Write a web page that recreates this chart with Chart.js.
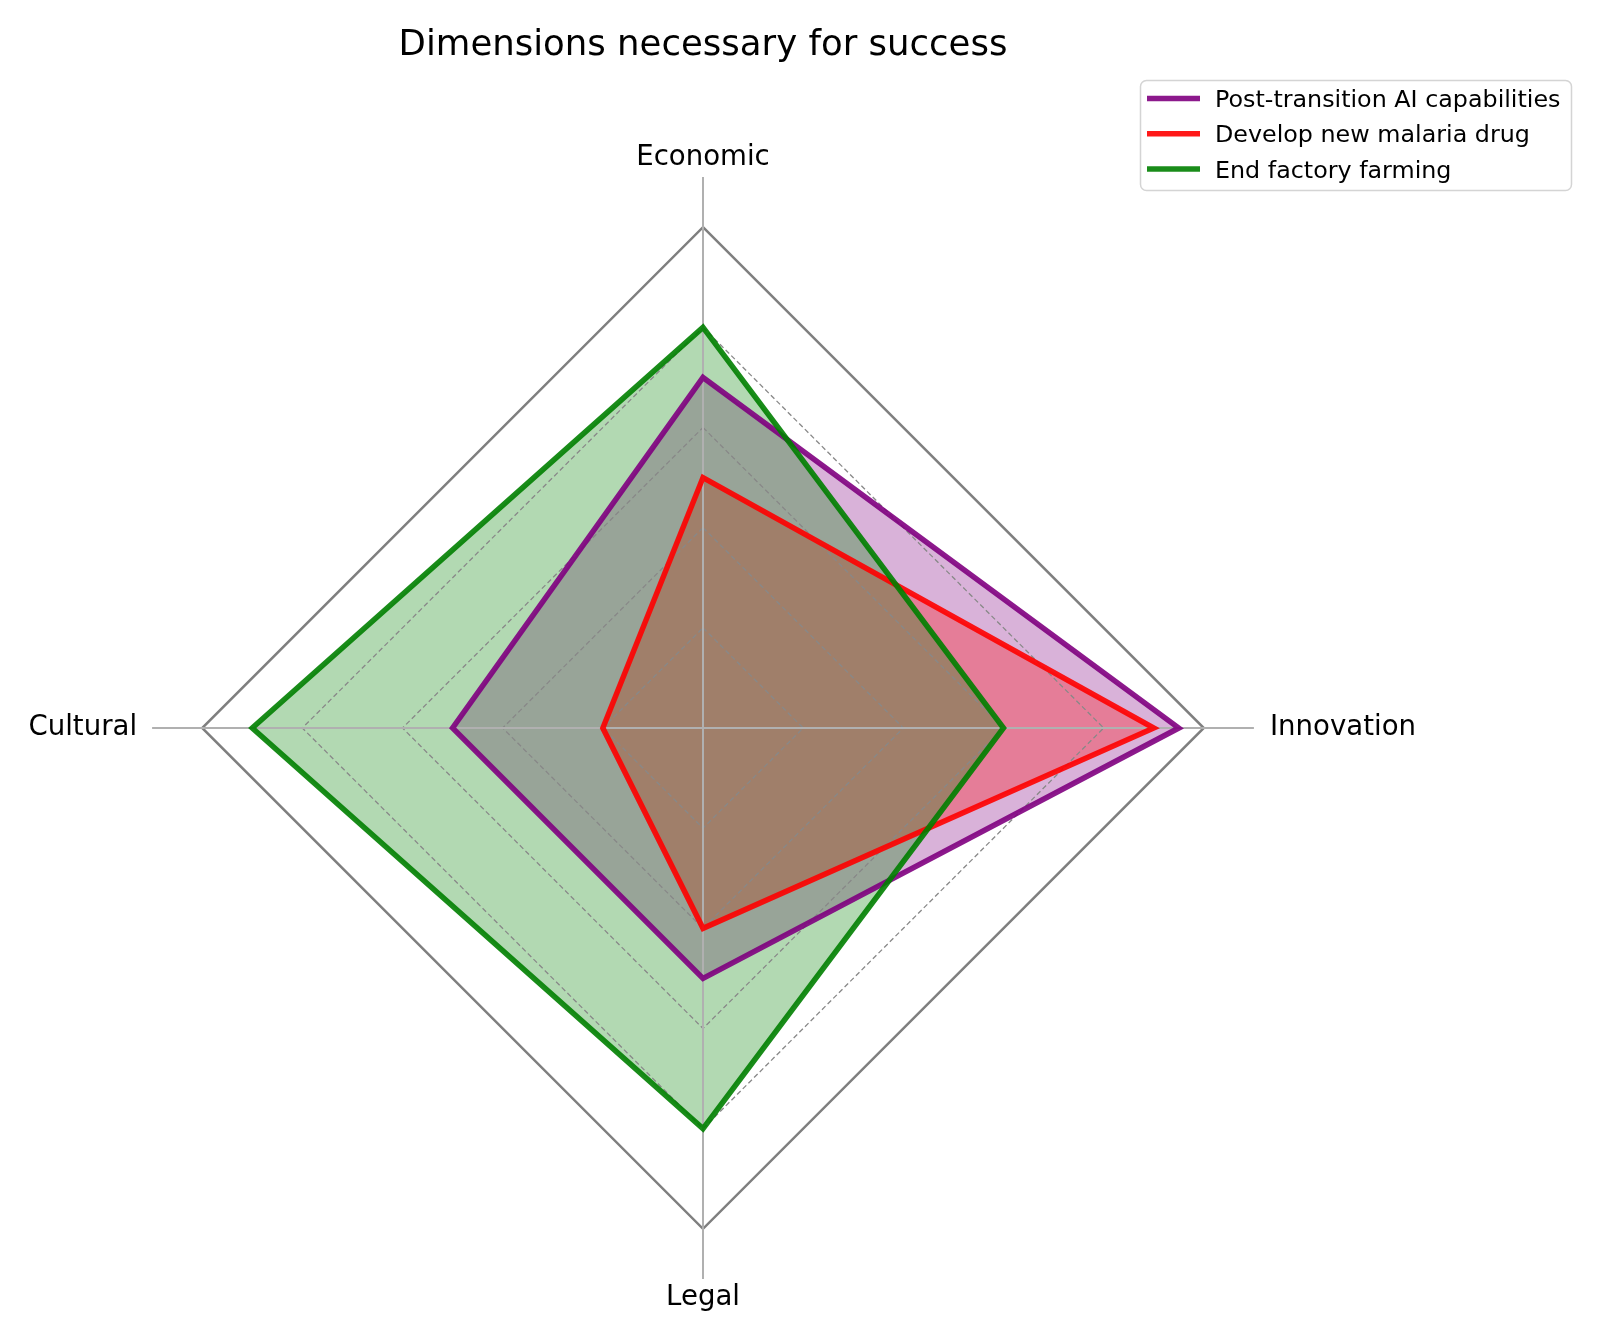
<!DOCTYPE html>
<html>
<head>
<meta charset="utf-8">
<title>Dimensions necessary for success</title>
<script src="https://cdn.jsdelivr.net/npm/chart.js@4.4.1/dist/chart.umd.min.js"></script>
<style>
  html, body { margin: 0; padding: 0; background: #fff; }
  #wrap { position: relative; width: 1600px; height: 1340px; }
</style>
</head>
<body>
<div id="wrap"><canvas id="myChart"></canvas></div>
<script>
const chartTitle = 'Dimensions necessary for success';
const dimensions = ['Economic', 'Innovation', 'Legal', 'Cultural'];
const seriesNames = ['Post-transition AI capabilities', 'Develop new malaria drug', 'End factory farming'];
const aiCapabilities = [7, 9.5, 5, 5];
const malariaDrug = [5, 9, 4, 2];
const factoryFarming = [8, 6, 8, 9];
const scaleMax = 11;   // angle lines run a bit past the outer ring
const outerRing = 10;

// padding between the end of each spoke and its label
const labelPad = [3, 16, 2, 15];

Chart.defaults.font.family = '"DejaVu Sans", sans-serif';

// title + legend drawn on the canvas, title centred on the radar
const titleAndLegend = {
  id: 'titleAndLegend',
  afterDraw(chart) {
    const c = chart.ctx;
    const r = chart.scales.r;
    c.save();
    c.fillStyle = '#000';
    c.textAlign = 'center';
    c.textBaseline = 'alphabetic';
    c.font = '35.5px "DejaVu Sans"';
    c.fillText(chartTitle, r.xCenter, 55);

    // legend box
    c.beginPath();
    c.roundRect(1140.5, 80.5, 431, 110, 6);
    c.fillStyle = 'rgba(255,255,255,0.8)';
    c.fill();
    c.strokeStyle = '#d4d4d4';
    c.lineWidth = 1.5;
    c.stroke();

    c.font = '23.8px "DejaVu Sans"';
    c.textAlign = 'left';
    chart.data.datasets.forEach(function (ds, i) {
      const y = 98.5 + i * 35.3;
      c.beginPath();
      c.moveTo(1147, y);
      c.lineTo(1200, y);
      c.strokeStyle = ds.borderColor;
      c.lineWidth = 5.5;
      c.stroke();
      c.fillStyle = '#000';
      c.fillText(ds.label, 1215, y + 8.6);
    });
    c.restore();
  }
};

const ctx = document.getElementById('myChart');
const myChart = new Chart(ctx, {
  type: 'radar',
  data: {
    labels: dimensions,
    datasets: [
      {
        label: seriesNames[0],
        data: aiCapabilities,
        borderColor: 'rgba(128,0,128,0.9)',
        backgroundColor: 'rgba(128,0,128,0.3)',
        fill: true,
        order: 3
      },
      {
        label: seriesNames[1],
        data: malariaDrug,
        borderColor: 'rgba(255,0,0,0.9)',
        backgroundColor: 'rgba(255,0,0,0.3)',
        fill: true,
        order: 2
      },
      {
        label: seriesNames[2],
        data: factoryFarming,
        borderColor: 'rgba(0,128,0,0.9)',
        backgroundColor: 'rgba(0,128,0,0.3)',
        fill: true,
        order: 1
      }
    ]
  },
  options: {
    responsive: true,
    maintainAspectRatio: false,
    animation: false,
    layout: {
      padding: { left: 10, right: 164, top: 138, bottom: 22 }
    },
    elements: {
      line: { borderWidth: 5.5, borderJoinStyle: 'miter', tension: 0 },
      point: { radius: 0, hoverRadius: 0 }
    },
    plugins: {
      legend: { display: false },
      title: { display: false },
      tooltip: { enabled: false },
      filler: { drawTime: 'beforeDraw' }
    },
    scales: {
      r: {
        min: 0,
        max: scaleMax,
        ticks: { display: false, stepSize: 2 },
        grid: {
          color: function (c) {
            if (c.tick.value === outerRing) return '#7f7f7f';
            if (c.tick.value > outerRing) return 'rgba(0,0,0,0)';
            return '#888888';
          },
          lineWidth: function (c) {
            if (c.tick.value === outerRing) return 2.5;
            if (c.tick.value > outerRing) return 0;
            return 1.3;
          }
        },
        border: {
          dash: function (c) {
            return c.tick && c.tick.value === outerRing ? [] : [5, 3];
          }
        },
        angleLines: { color: '#b0b0b0', lineWidth: 2 },
        pointLabels: {
          color: '#000',
          font: { size: 27.6 },
          padding: function (c) { return labelPad[c.index]; }
        }
      }
    }
  },
  plugins: [titleAndLegend]
});
</script>
</body>
</html>
